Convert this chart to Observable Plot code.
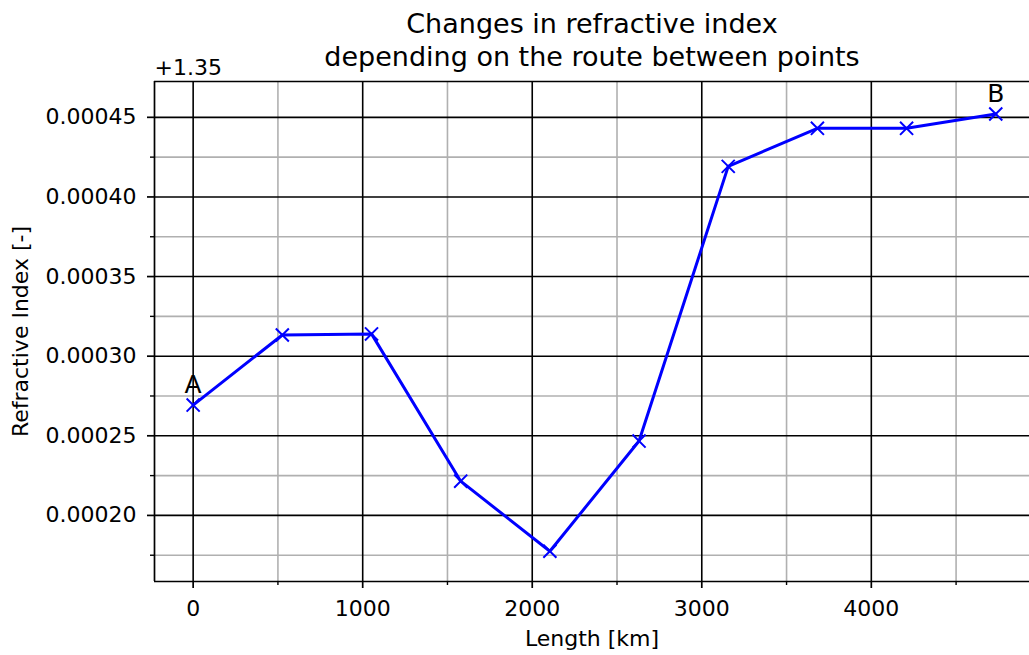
<!DOCTYPE html>
<html><head><meta charset="utf-8">
<script src="https://cdn.jsdelivr.net/npm/d3@7"></script>
<script src="https://cdn.jsdelivr.net/npm/@observablehq/plot@0.6"></script>
<style>body{margin:0;background:#fff} svg{display:block}</style>
</head><body><div id="chart"></div>
<script>
const lengthKm = [0, 526, 1052, 1578, 2104, 2630, 3156, 3682, 4208, 4734];
const refractiveIndex = [1.3502693, 1.3503133, 1.350314, 1.3502215, 1.3501775, 1.3502467, 1.3504192, 1.3504431, 1.3504431, 1.3504521];
const offsetValue = 1.35;
const offsetLabel = "+1.35";
const pointLabels = ["A", "", "", "", "", "", "", "", "", "B"];
const xMajor = [0, 1000, 2000, 3000, 4000];
const xMinor = [500, 1500, 2500, 3500, 4500];
const yMajor = [0.0002, 0.00025, 0.0003, 0.00035, 0.0004, 0.00045];
const yMinor = [0.000175, 0.000225, 0.000275, 0.000325, 0.000375, 0.000425];
const titleText = "Changes in refractive index\ndepending on the route between points";
const xLabel = "Length [km]";
const yLabel = "Refractive Index [-]";

const data = lengthKm.map((x, i) => ({x, y: refractiveIndex[i] - offsetValue, label: pointLabels[i]}));
const xDomain = [-228, 4933];
const yDomain = [0.0001585, 0.0004725];
const font = "DejaVu Sans";
const fs = 22;

const chart = Plot.plot({
  width: 1029, height: 655,
  marginLeft: 154, marginRight: 0, marginTop: 81, marginBottom: 74,
  style: {fontFamily: font, fontSize: fs + "px", background: "#fff", color: "black"},
  x: {domain: xDomain},
  y: {domain: yDomain},
  marks: [
    Plot.ruleX(xMinor, {stroke: "#b0b0b0", strokeWidth: 1.6}),
    Plot.ruleY(yMinor, {stroke: "#b0b0b0", strokeWidth: 1.6}),
    Plot.ruleX(xMajor, {stroke: "black", strokeWidth: 1.6}),
    Plot.ruleY(yMajor, {stroke: "black", strokeWidth: 1.6}),
    Plot.ruleX([xDomain[0]], {stroke: "black", strokeWidth: 1.7}),
    Plot.ruleY([yDomain[0], yDomain[1]], {stroke: "black", strokeWidth: 1.7}),
    Plot.axisX({ticks: xMajor, tickSize: 7, tickPadding: 12, tickFormat: d => String(d), label: null, fontSize: fs, strokeWidth: 1.7}),
    Plot.axisX({ticks: xMinor, tickSize: 4, tickFormat: () => "", label: null, strokeWidth: 1.4}),
    Plot.axisY({ticks: yMajor, tickSize: 7, tickPadding: 11, tickFormat: d3.format(".5f"), fontSize: fs, strokeWidth: 1.7,
      label: yLabel, labelAnchor: "center", labelArrow: "none", labelOffset: 142}),
    Plot.axisY({ticks: yMinor, tickSize: 4, tickFormat: () => "", label: null, strokeWidth: 1.4}),
    Plot.line(data, {x: "x", y: "y", stroke: "blue", strokeWidth: 3}),
    Plot.dot(data, {x: "x", y: "y", symbol: "times", r: 6, stroke: "blue", strokeWidth: 2}),
    Plot.text(data, {x: "x", y: "y", text: "label", dy: -20, fontSize: 25, fill: "black"}),
    Plot.text([offsetLabel], {frameAnchor: "top-left", text: d => d, textAnchor: "start", lineAnchor: "bottom", dy: -7, fontSize: fs}),
    Plot.text([titleText], {frameAnchor: "top", text: d => d, lineAnchor: "bottom", dy: -16, fontSize: 27, lineHeight: 1.2}),
    Plot.text([xLabel], {frameAnchor: "bottom", text: d => d, lineAnchor: "bottom", dy: 64, fontSize: fs})
  ]
});
document.getElementById("chart").appendChild(chart);
</script></body></html>
